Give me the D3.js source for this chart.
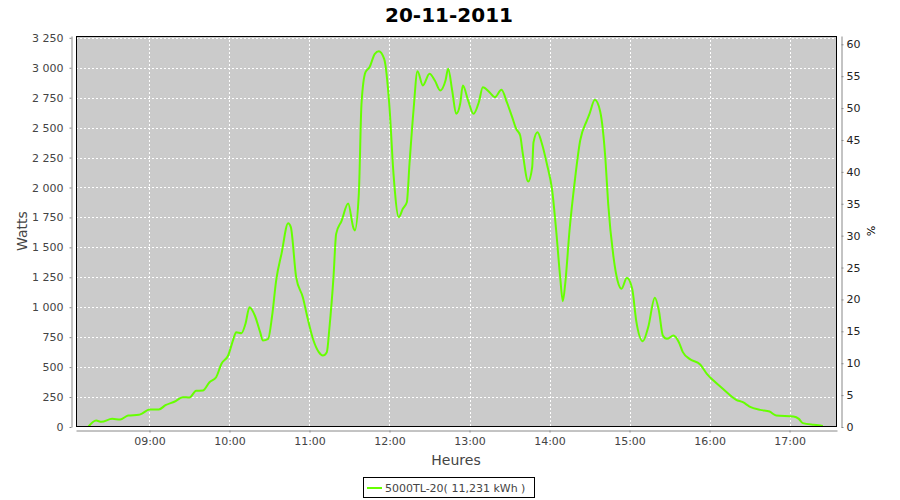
<!DOCTYPE html>
<html>
<head>
<meta charset="utf-8">
<script src="https://cdn.jsdelivr.net/npm/d3@7"></script>
<style>
  html, body { margin: 0; padding: 0; background: #ffffff; }
  svg { display: block; }
  text { font-family: "DejaVu Sans", Verdana, sans-serif; }
</style>
</head>
<body>
<svg id="chart" width="900" height="500"></svg>
<script>
// ---- data ----
const chartTitle = "20-11-2011";
const seriesName = "5000TL-20( 11,231 kWh )";
const times = [
  "08:14","08:20","08:24","08:32","08:38","08:44","08:52","08:54","09:00","09:07",
  "09:12","09:19","09:25","09:30","09:35","09:40","09:45","09:50","09:54","09:59",
  "10:03","10:05","10:09","10:12","10:15","10:19","10:23","10:25","10:29","10:32",
  "10:35","10:39","10:44","10:46","10:50","10:55","10:59","11:03","11:07","11:10",
  "11:13","11:15","11:18","11:20","11:24","11:29","11:33","11:34","11:37","11:39",
  "11:42","11:45","11:49","11:52","11:56","12:00","12:03","12:07","12:10","12:13",
  "12:15","12:18","12:21","12:25","12:30","12:34","12:38","12:42","12:44","12:47",
  "12:50","12:53","12:55","12:59","13:03","13:07","13:10","13:15","13:19","13:24",
  "13:28","13:32","13:35","13:38","13:40","13:44","13:47","13:48","13:51","13:54",
  "13:58","14:02","14:05","14:08","14:10","14:12","14:15","14:19","14:23","14:28",
  "14:30","14:34","14:38","14:42","14:44","14:48","14:51","14:54","14:58","15:02",
  "15:05","15:10","15:14","15:19","15:22","15:25","15:28","15:33","15:37","15:40",
  "15:45","15:53","15:58","16:03","16:10","16:20","16:25","16:30","16:38","16:45",
  "16:50","17:03","17:07","17:10","17:18","17:23","17:25"
];
const watts = [
  0,54,43,68,63,96,102,110,146,146,
  182,213,249,246,302,305,374,416,528,597,
  736,792,783,862,1000,931,792,722,736,931,
  1223,1446,1702,1669,1251,1084,889,722,625,597,
  625,833,1251,1613,1720,1866,1660,1641,1947,2698,
  2963,3004,3116,3138,3074,2670,2114,1752,1822,1877,
  2198,2643,2971,2852,2949,2893,2810,2893,2991,2810,
  2615,2699,2852,2726,2615,2712,2837,2796,2754,2816,
  2712,2587,2490,2434,2281,2050,2169,2378,2462,2378,
  2198,1975,1641,1251,1050,1223,1641,2058,2392,2559,
  2615,2732,2635,2225,1864,1418,1223,1154,1246,1154,
  889,716,833,1079,973,764,736,764,708,625,
  569,522,444,388,319,227,207,171,143,129,
  96,88,68,32,18,13,8
];
const hourTicks = ["09:00","10:00","11:00","12:00","13:00","14:00","15:00","16:00","17:00"];
const wattTicks = [0,250,500,750,1000,1250,1500,1750,2000,2250,2500,2750,3000,3250];
const pctTicks = [0,5,10,15,20,25,30,35,40,45,50,55,60];
const xAxisTitle = "Heures";
const yAxisTitle = "Watts";
const y2AxisTitle = "%";

// ---- helpers ----
const toMin = s => { const [h, m] = s.split(":").map(Number); return h * 60 + m; };
const fmtSpace = v => d3.format(",")(v).replace(/,/g, " ");

// ---- layout ----
const svg = d3.select("#chart");
const plot = { left: 76, right: 837, top: 36, bottom: 427 };
const lineColor = "#66ff00";

const x = d3.scaleLinear().domain([484.9, 1055.6]).range([plot.left, plot.right]);
const y = d3.scaleLinear().domain([0, 3265]).range([plot.bottom, plot.top]);
const y2 = d3.scaleLinear().domain([0, 61.3]).range([plot.bottom, plot.top]);

// title
svg.append("text")
  .attr("x", 449).attr("y", 22)
  .attr("text-anchor", "middle")
  .attr("font-size", 20).attr("font-weight", "bold")
  .attr("fill", "#000")
  .text(chartTitle);

// plot background
svg.append("rect")
  .attr("x", plot.left).attr("y", plot.top)
  .attr("width", plot.right - plot.left).attr("height", plot.bottom - plot.top)
  .attr("fill", "#cbcbcb");

// gridlines
const grid = svg.append("g");
grid.selectAll("line.h").data(wattTicks.filter(v => v > 0)).join("line")
  .attr("x1", plot.left).attr("x2", plot.right)
  .attr("y1", d => Math.round(y(d)) + 0.5).attr("y2", d => Math.round(y(d)) + 0.5)
  .attr("stroke", "#fff").attr("stroke-width", 1).attr("stroke-dasharray", "2,2");
grid.selectAll("line.v").data(hourTicks).join("line")
  .attr("x1", d => Math.round(x(toMin(d))) + 0.5).attr("x2", d => Math.round(x(toMin(d))) + 0.5)
  .attr("y1", plot.top).attr("y2", plot.bottom)
  .attr("stroke", "#fff").attr("stroke-width", 1).attr("stroke-dasharray", "2,2");

// clip
svg.append("clipPath").attr("id", "clip").append("rect")
  .attr("x", plot.left).attr("y", plot.top)
  .attr("width", plot.right - plot.left).attr("height", plot.bottom - plot.top);

// line
const pts = times.map((t, i) => ({ t: toMin(t), v: watts[i] }));
const line = d3.line().x(d => x(d.t)).y(d => y(d.v)).curve(d3.curveMonotoneX);
svg.append("path")
  .datum(pts)
  .attr("clip-path", "url(#clip)")
  .attr("d", line)
  .attr("fill", "none")
  .attr("stroke", lineColor)
  .attr("stroke-width", 2)
  .attr("stroke-linejoin", "round");

// plot border
svg.append("rect")
  .attr("x", plot.left + 0.5).attr("y", plot.top + 0.5)
  .attr("width", plot.right - plot.left - 1).attr("height", plot.bottom - plot.top - 1)
  .attr("fill", "none").attr("stroke", "#000").attr("stroke-width", 1);

// axes
function styleAxis(g, color) {
  g.select(".domain").attr("stroke", "#888");
  g.selectAll(".tick line").attr("stroke", "#888");
  g.selectAll(".tick text").attr("fill", color).attr("font-size", 11)
    .attr("font-family", "'DejaVu Sans', Verdana, sans-serif");
}

const yAxis = d3.axisLeft(y).tickValues(wattTicks).tickFormat(fmtSpace)
  .tickSizeInner(2).tickSizeOuter(0).tickPadding(6);
svg.append("g").attr("transform", "translate(71.5,0)").call(yAxis).call(g => styleAxis(g, "#444"));

const xAxis = d3.axisBottom(x).tickValues(hourTicks.map(toMin))
  .tickFormat((d, i) => hourTicks[i]).tickSizeInner(2).tickSizeOuter(0).tickPadding(5);
svg.append("g").attr("transform", "translate(0,430.5)").call(xAxis).call(g => styleAxis(g, "#444"));

const y2Axis = d3.axisRight(y2).tickValues(pctTicks).tickFormat(d3.format("d"))
  .tickSizeInner(2).tickSizeOuter(0).tickPadding(3);
svg.append("g").attr("transform", "translate(841.5,0)").call(y2Axis).call(g => styleAxis(g, "#222"));

// axis titles
svg.append("text")
  .attr("transform", "translate(27,231) rotate(-90)")
  .attr("text-anchor", "middle")
  .attr("font-size", 14).attr("fill", "#444")
  .text(yAxisTitle);

svg.append("text")
  .attr("x", 456).attr("y", 465)
  .attr("text-anchor", "middle")
  .attr("font-size", 14).attr("fill", "#444")
  .text(xAxisTitle);

svg.append("text")
  .attr("transform", "translate(867,231) rotate(90)")
  .attr("text-anchor", "middle")
  .attr("font-size", 11).attr("fill", "#000")
  .text(y2AxisTitle);

// legend
const lg = svg.append("g");
lg.append("rect")
  .attr("x", 363.5).attr("y", 477.5).attr("width", 171).attr("height", 20)
  .attr("fill", "#fff").attr("stroke", "#000").attr("stroke-width", 1);
lg.append("line")
  .attr("x1", 367).attr("x2", 382).attr("y1", 488).attr("y2", 488)
  .attr("stroke", lineColor).attr("stroke-width", 2);
lg.append("text")
  .attr("x", 385).attr("y", 492)
  .attr("font-size", 11).attr("fill", "#444")
  .text(seriesName);
</script>
</body>
</html>
